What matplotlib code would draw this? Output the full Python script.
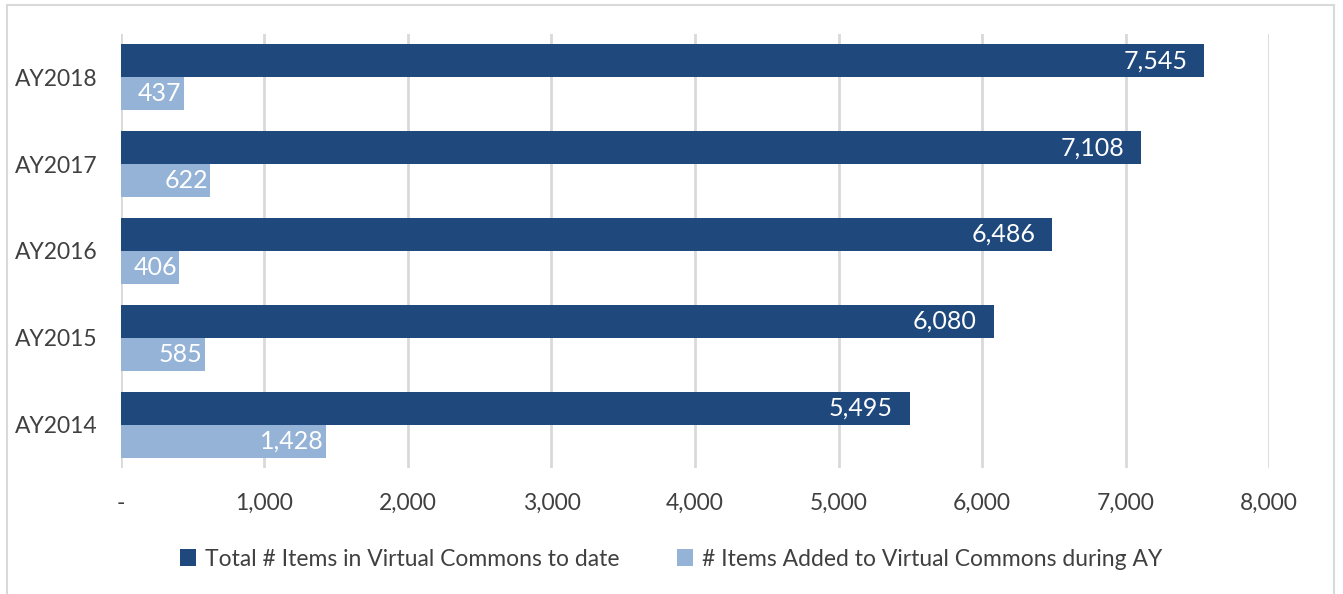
import matplotlib.pyplot as plt
from matplotlib.patches import Rectangle
from matplotlib.ticker import FuncFormatter

years = ["AY2014", "AY2015", "AY2016", "AY2017", "AY2018"]
total_items = [5495, 6080, 6486, 7108, 7545]
added_items = [1428, 585, 406, 622, 437]
x_ticks = [0, 1000, 2000, 3000, 4000, 5000, 6000, 7000, 8000]

dark = "#1F497D"
light = "#95B3D7"
text_col = "#404040"
plt.rcParams['font.family'] = ['Lato', 'DejaVu Sans']

fig = plt.figure(figsize=(13.43, 5.94), dpi=100)
ax = fig.add_axes([0.090, 1 - 468 / 594, 0.855, 434 / 594])

# figure border
fig.patches.append(Rectangle((7 / 1343, -0.1), 1327 / 1343, 1.1 - 5 / 594,
                             transform=fig.transFigure, fill=False,
                             edgecolor="#D9D9D9", linewidth=1.5))

pos = list(range(len(years)))
h = 0.38
b1 = ax.barh([p + h / 2 for p in pos], total_items, height=h, color=dark,
             label="Total # Items in Virtual Commons to date", zorder=2)
b2 = ax.barh([p - h / 2 for p in pos], added_items, height=h, color=light,
             label="# Items Added to Virtual Commons during AY", zorder=2)

for bars, vals, off in ((b1, total_items, -12), (b2, added_items, -1.5)):
    for bar, v in zip(bars, vals):
        ax.annotate(f"{v:,}", (v, bar.get_y() + bar.get_height() / 2),
                    xytext=(off, 0), textcoords="offset points",
                    ha="right", va="center", color="white", fontsize=18, zorder=3)

ax.set_xlim(0, 8000)
ax.set_ylim(-0.5, 4.5)
ax.set_xticks(x_ticks)
ax.xaxis.set_major_formatter(FuncFormatter(lambda v, p: "-" if v == 0 else f"{int(v):,}"))
ax.set_yticks(pos)
ax.set_yticklabels(years)
ax.tick_params(axis="both", length=0, colors=text_col, labelsize=16.5)
ax.tick_params(axis="x", pad=18)
ax.tick_params(axis="y", pad=16.5)
ax.grid(axis="x", color="#D9D9D9", linewidth=2, zorder=0)
ax.set_axisbelow(True)
for s in ax.spines.values():
    s.set_visible(False)

leg = fig.legend(loc="center", bbox_to_anchor=(0.5, 1 - 559 / 594), ncol=2,
                 frameon=False, fontsize=16.5, handlelength=0.7, handleheight=0.7,
                 handletextpad=0.4, columnspacing=2.5)
for t in leg.get_texts():
    t.set_color(text_col)

fig.savefig("out.png", dpi=100)
